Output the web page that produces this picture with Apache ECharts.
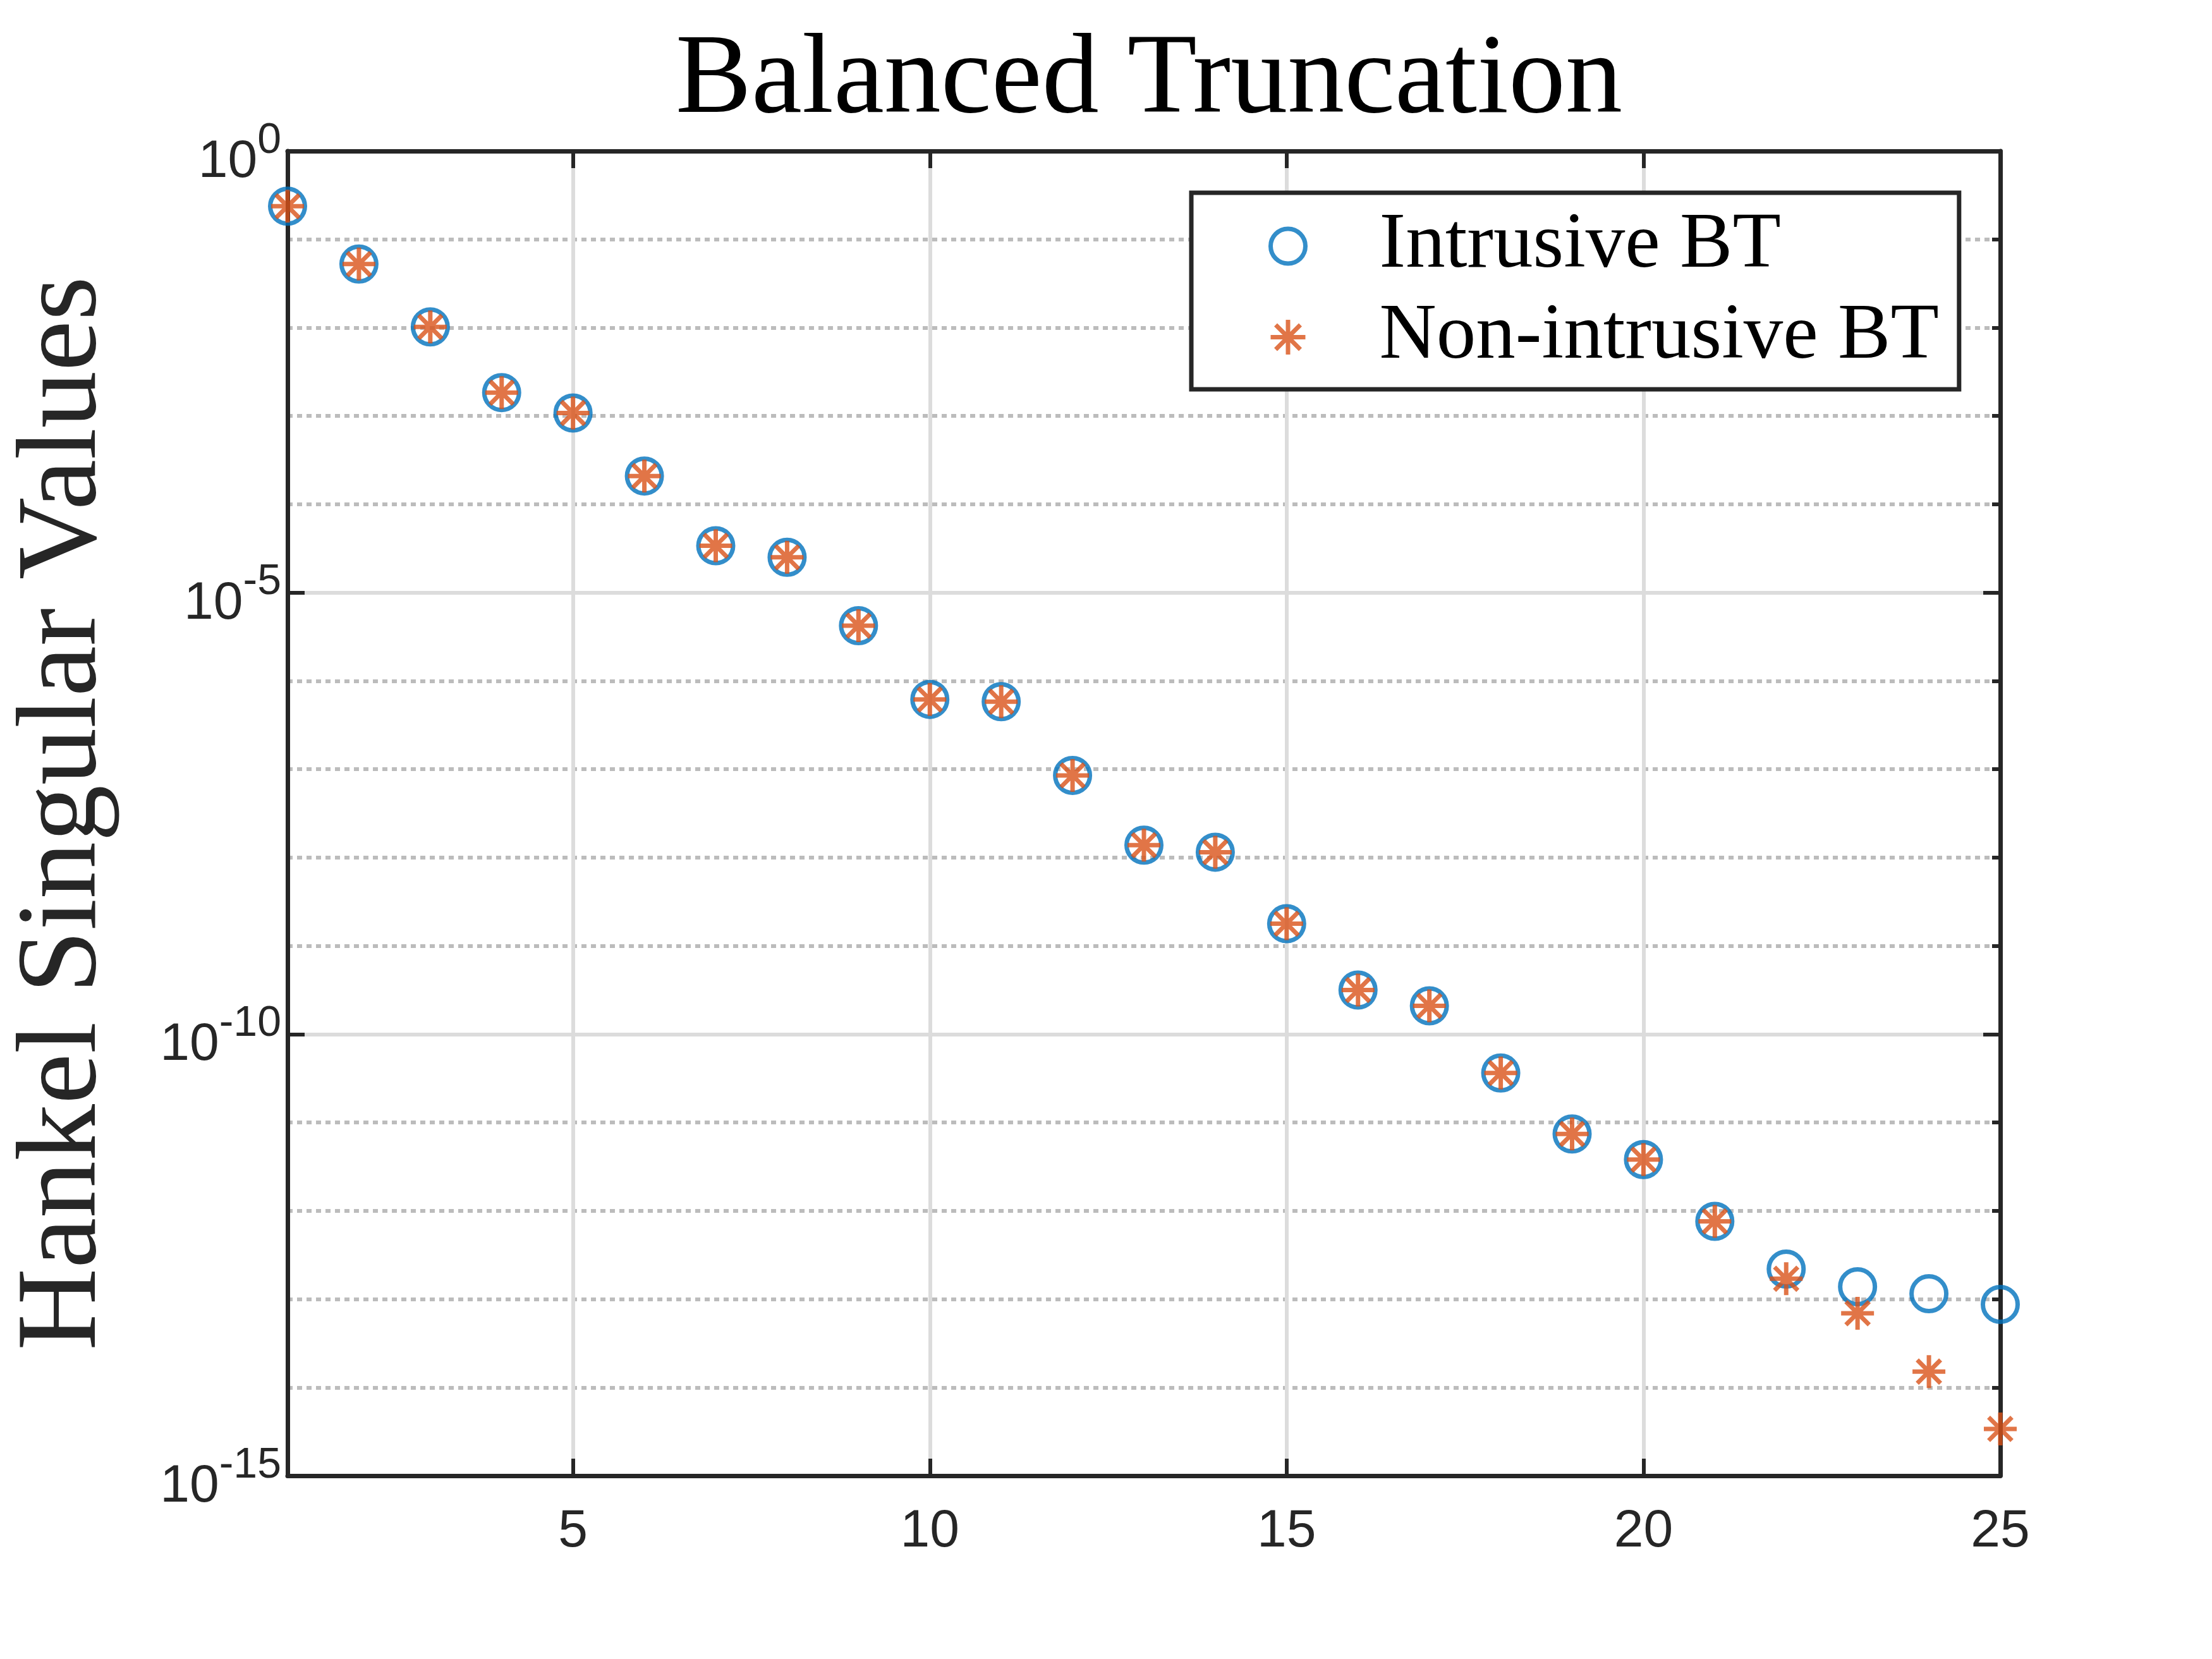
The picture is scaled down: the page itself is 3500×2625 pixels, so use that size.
<!DOCTYPE html>
<html lang="en">
<head>
<meta charset="UTF-8">
<title>Balanced Truncation</title>
<script src="https://cdn.jsdelivr.net/npm/echarts@6/dist/echarts.min.js"></script>
<style>
  html, body { margin: 0; padding: 0; background: #fff; }
  #main { width: 3500px; height: 2625px; }
</style>
</head>
<body>
<div id="main"></div>
<script>
// reduced order index
const orders = [1, 2, 3, 4, 5, 6, 7, 8, 9, 10, 11, 12, 13, 14, 15, 16, 17, 18, 19, 20, 21, 22, 23, 24, 25];
// Hankel singular values, intrusive BT
const intrusiveBT = [
    2.37e-1, 5.25e-2, 1.02e-2, 1.84e-3, 1.08e-3, 2.09e-4, 3.39e-5, 2.51e-5, 4.22e-6, 6.17e-7,
    5.82e-7, 8.51e-8, 1.38e-8, 1.15e-8, 1.78e-9, 3.16e-10, 2.09e-10, 3.63e-11, 7.41e-12, 3.80e-12,
    7.59e-13, 2.19e-13, 1.38e-13, 1.15e-13, 8.71e-14
];
// Hankel singular values, non-intrusive BT (same as intrusive up to 21)
const nonIntrusiveBT = [
    2.37e-1, 5.25e-2, 1.02e-2, 1.84e-3, 1.08e-3, 2.09e-4, 3.39e-5, 2.51e-5, 4.22e-6, 6.17e-7,
    5.82e-7, 8.51e-8, 1.38e-8, 1.15e-8, 1.78e-9, 3.16e-10, 2.09e-10, 3.63e-11, 7.41e-12, 3.80e-12,
    7.59e-13, 1.70e-13, 6.92e-14, 1.51e-14, 3.39e-15
];
const seriesNames = ['Intrusive BT', 'Non-intrusive BT'];

const axisColor = '#262626';
const starPath = 'path://M0,-10L0,10M-10,0L10,0M-7.1,-7.1L7.1,7.1M-7.1,7.1L7.1,-7.1';

function pairs(ys) {
    return orders.map((x, i) => [x, ys[i]]);
}

// 10^n labels
function powLabel(v) {
    const e = Math.round(Math.log10(v));
    return '{b|10}{s|' + e + '}';
}

const myChart = echarts.init(document.getElementById('main'));

const option = {
    backgroundColor: '#fff',
    animation: false,
    title: {
        text: 'Balanced Truncation',
        left: 1813,
        top: 35,
        textAlign: 'center',
        textStyle: {
            fontFamily: 'Liberation Serif',
            fontSize: 180,
            lineHeight: 180,
            fontWeight: 'normal',
            color: '#000'
        }
    },
    grid: { left: 455, top: 239, width: 2710, height: 2096, containLabel: false },
    legend: {
        orient: 'vertical',
        left: 1885,
        top: 305,
        padding: [22, 32, 20, 122],
        itemGap: 19,
        itemWidth: 55,
        itemHeight: 55,
        backgroundColor: '#fff',
        borderColor: axisColor,
        borderWidth: 7,
        borderRadius: 0,
        itemStyle: { borderWidth: 7 },
        textStyle: {
            fontFamily: 'Liberation Serif',
            fontSize: 125,
            color: '#000',
            padding: [0, 0, 0, 112]
        },
        data: seriesNames
    },
    xAxis: [
        {
            type: 'value',
            min: 1,
            max: 25,
            splitNumber: 5,
            minInterval: 5,
            maxInterval: 5,
            z: 1,
            axisLine: { show: true, onZero: false, lineStyle: { color: axisColor, width: 7 } },
            axisTick: { show: true, inside: true, length: 27, lineStyle: { color: axisColor, width: 6 } },
            axisLabel: {
                showMinLabel: false,
                margin: 47,
                fontFamily: 'Liberation Sans',
                fontSize: 84,
                lineHeight: 84,
                color: axisColor
            },
            splitLine: { show: true, showMinLine: false, showMaxLine: false, lineStyle: { color: '#dcdcdc', width: 6 } }
        },
        {
            type: 'value',
            position: 'top',
            min: 1,
            max: 25,
            splitNumber: 5,
            minInterval: 5,
            maxInterval: 5,
            z: 1,
            axisLine: { show: true, onZero: false, lineStyle: { color: axisColor, width: 7 } },
            axisTick: { show: true, inside: true, length: 27, lineStyle: { color: axisColor, width: 6 } },
            axisLabel: { show: false },
            splitLine: { show: false }
        }
    ],
    yAxis: [
        {
            type: 'log',
            logBase: 10,
            min: 1e-15,
            max: 1,
            interval: 5,
            z: 1,
            name: 'Hankel Singular Values',
            nameLocation: 'middle',
            nameRotate: 90,
            nameGap: 262,
            nameTextStyle: {
                fontFamily: 'Liberation Serif',
                fontSize: 180,
                lineHeight: 180,
                color: axisColor
            },
            axisLine: { show: true, onZero: false, lineStyle: { color: axisColor, width: 7 } },
            axisTick: { show: true, inside: true, length: 27, lineStyle: { color: axisColor, width: 6 } },
            axisLabel: {
                margin: 10,
                formatter: powLabel,
                color: axisColor,
                fontFamily: 'Liberation Sans',
                fontSize: 84,
                rich: {
                    b: { fontFamily: 'Liberation Sans', fontSize: 84, lineHeight: 84, padding: [36, 0, 0, 0], color: axisColor },
                    s: { fontFamily: 'Liberation Sans', fontSize: 68, lineHeight: 68, padding: [0, 0, 32, 0], color: axisColor }
                }
            },
            splitLine: { show: true, showMinLine: false, showMaxLine: false, lineStyle: { color: '#dcdcdc', width: 6 } }
        },
        {
            // decade grid (dotted)
            type: 'log',
            logBase: 10,
            min: 1e-15,
            max: 1,
            interval: 1,
            z: 0,
            axisLine: { show: false },
            axisTick: { show: true, inside: true, length: 13, lineStyle: { color: axisColor, width: 6 } },
            axisLabel: { show: false },
            splitLine: { show: true, showMinLine: false, showMaxLine: false, lineStyle: { color: '#bcbcbc', width: 6, type: [8, 7] } }
        },
        {
            type: 'log',
            logBase: 10,
            position: 'right',
            min: 1e-15,
            max: 1,
            interval: 5,
            z: 1,
            axisLine: { show: true, onZero: false, lineStyle: { color: axisColor, width: 7 } },
            axisTick: { show: true, inside: true, length: 27, lineStyle: { color: axisColor, width: 6 } },
            axisLabel: { show: false },
            splitLine: { show: false }
        },
        {
            type: 'log',
            logBase: 10,
            position: 'right',
            min: 1e-15,
            max: 1,
            interval: 1,
            z: 1,
            axisLine: { show: false },
            axisTick: { show: true, inside: true, length: 13, lineStyle: { color: axisColor, width: 6 } },
            axisLabel: { show: false },
            splitLine: { show: false }
        }
    ],
    series: [
        {
            name: seriesNames[0],
            type: 'scatter',
            xAxisIndex: 0,
            yAxisIndex: 0,
            symbol: 'circle',
            symbolSize: 55,
            itemStyle: { color: 'rgba(0,0,0,0)', borderColor: '#0072BD', borderWidth: 7 },
            data: pairs(intrusiveBT)
        },
        {
            name: seriesNames[1],
            type: 'scatter',
            xAxisIndex: 0,
            yAxisIndex: 0,
            symbol: starPath,
            symbolSize: 52,
            itemStyle: { color: 'rgba(0,0,0,0)', borderColor: '#D95319', borderWidth: 7 },
            data: pairs(nonIntrusiveBT)
        }
    ]
};

myChart.setOption(option);
</script>
</body>
</html>
